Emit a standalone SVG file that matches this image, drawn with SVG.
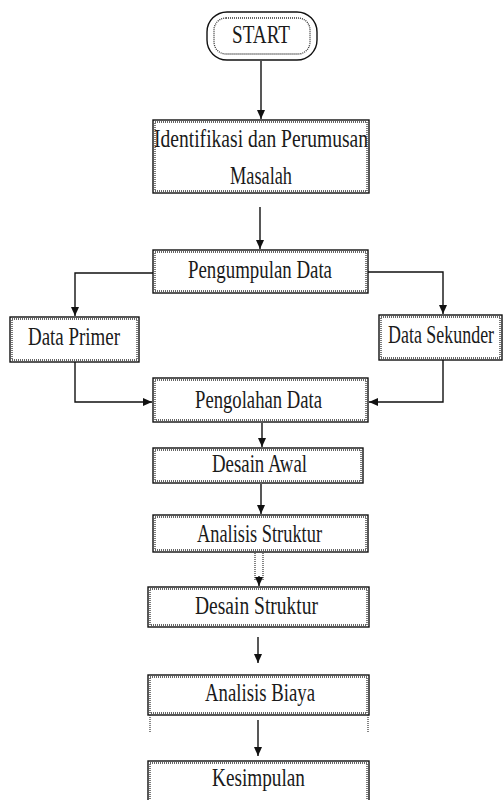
<svg xmlns="http://www.w3.org/2000/svg" width="504" height="800" viewBox="0 0 504 800">
<defs>
<style>
.o{fill:#fff;stroke:#111;stroke-width:1.4}
.i{fill:none;stroke:#333;stroke-width:1.3;stroke-dasharray:1 1}
.t{font-family:"Liberation Serif","Times New Roman",serif;font-size:26px;fill:#1a1a1a}
.c{fill:none;stroke:#111;stroke-width:1.4}
.d{fill:none;stroke:#333;stroke-width:1.2;stroke-dasharray:1 1}
</style>
<marker id="ah" markerWidth="10" markerHeight="10" refX="9" refY="5" orient="auto" markerUnits="userSpaceOnUse">
<path d="M0,1 L9,5 L0,9 Z" fill="#111"/>
</marker>
</defs>
<rect width="504" height="800" fill="#fff"/>

<g id="start">
<rect class="o" x="207" y="12" width="110" height="48" rx="20"/>
<rect class="i" x="214" y="18" width="96" height="36" rx="12"/>
<text class="t" x="232" y="43" textLength="58" lengthAdjust="spacingAndGlyphs">START</text>
</g>

<g id="identifikasi">
<rect class="o" x="153" y="120" width="216" height="73"/>
<rect class="i" x="155" y="122" width="212" height="69"/>
<text class="t" x="154" y="147" textLength="214" lengthAdjust="spacingAndGlyphs">Identifikasi dan Perumusan</text>
<text class="t" x="230" y="184" textLength="62" lengthAdjust="spacingAndGlyphs">Masalah</text>
</g>

<g id="pengumpulan">
<rect class="o" x="153" y="250" width="215" height="43"/>
<rect class="i" x="155" y="252" width="211" height="39"/>
<text class="t" x="188" y="278" textLength="144" lengthAdjust="spacingAndGlyphs">Pengumpulan Data</text>
</g>

<g id="primer">
<rect class="o" x="10" y="317" width="129" height="45"/>
<rect class="i" x="12" y="319" width="125" height="41"/>
<text class="t" x="28" y="345" textLength="92" lengthAdjust="spacingAndGlyphs">Data Primer</text>
</g>

<g id="sekunder">
<rect class="o" x="379" y="315" width="123" height="45"/>
<rect class="i" x="381" y="317" width="119" height="41"/>
<text class="t" transform="translate(388,343) scale(0.69,1)" x="0" y="0">Data Sekunder</text>
</g>

<g id="pengolahan">
<rect class="o" x="153" y="378" width="215" height="44"/>
<rect class="i" x="155" y="380" width="211" height="40"/>
<text class="t" x="195" y="408" textLength="127" lengthAdjust="spacingAndGlyphs">Pengolahan Data</text>
</g>

<g id="desain-awal">
<rect class="o" x="153" y="448" width="210" height="35"/>
<rect class="i" x="155" y="450" width="206" height="31"/>
<text class="t" x="212" y="472" textLength="95" lengthAdjust="spacingAndGlyphs">Desain Awal</text>
</g>

<g id="analisis-struktur">
<rect class="o" x="153" y="515" width="215" height="37"/>
<rect class="i" x="155" y="517" width="211" height="33"/>
<text class="t" x="197" y="542" textLength="125" lengthAdjust="spacingAndGlyphs">Analisis Struktur</text>
</g>

<g id="desain-struktur">
<rect class="o" x="148" y="587" width="221" height="40"/>
<rect class="i" x="150" y="589" width="217" height="36"/>
<text class="t" x="195" y="614" textLength="123" lengthAdjust="spacingAndGlyphs">Desain Struktur</text>
</g>

<g id="analisis-biaya">
<rect class="o" x="148" y="675" width="221" height="40"/>
<rect class="i" x="150" y="677" width="217" height="36"/>
<text class="t" x="205" y="701" textLength="110" lengthAdjust="spacingAndGlyphs">Analisis Biaya</text>
<line class="d" x1="150" y1="715" x2="150" y2="733"/>
<line class="d" x1="368" y1="715" x2="368" y2="733"/>
</g>

<g id="kesimpulan">
<rect class="o" x="148" y="761" width="221" height="45"/>
<rect class="i" x="150" y="763" width="217" height="41"/>
<text class="t" x="212" y="786" textLength="93" lengthAdjust="spacingAndGlyphs">Kesimpulan</text>
</g>

<g id="connectors">
<line class="c" x1="261" y1="61" x2="261" y2="119" marker-end="url(#ah)"/>
<line class="c" x1="260" y1="207" x2="260" y2="249" marker-end="url(#ah)"/>
<polyline class="c" points="153,273 75,273 75,316" marker-end="url(#ah)"/>
<polyline class="c" points="368,272 443,272 443,314" marker-end="url(#ah)"/>
<polyline class="c" points="75,362 75,402 152,402" marker-end="url(#ah)"/>
<polyline class="c" points="443,360 443,402 369,402" marker-end="url(#ah)"/>
<line class="c" x1="262" y1="423" x2="262" y2="447" marker-end="url(#ah)"/>
<line class="c" x1="261" y1="484" x2="261" y2="514" marker-end="url(#ah)"/>
<line class="d" x1="255" y1="553" x2="255" y2="580"/>
<line class="d" x1="263" y1="553" x2="263" y2="580"/>
<line class="c" x1="259" y1="576" x2="259" y2="586" marker-end="url(#ah)"/>
<line class="c" x1="258" y1="637" x2="258" y2="663" marker-end="url(#ah)"/>
<line class="c" x1="258" y1="720" x2="258" y2="756" marker-end="url(#ah)"/>
</g>
</svg>
